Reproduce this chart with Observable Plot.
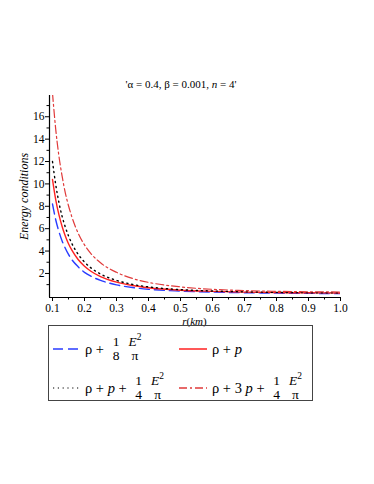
<!DOCTYPE html>
<html>
<head>
<meta charset="utf-8">
<script src="https://cdn.jsdelivr.net/npm/d3@7"></script>
<script src="https://cdn.jsdelivr.net/npm/@observablehq/plot@0.6"></script>
<style>
  html, body { margin: 0; padding: 0; background: #fff; }
  #wrap { position: relative; width: 374px; height: 484px; font-family: "Liberation Serif", "DejaVu Serif", serif; color: #000; }
  #chart { position: absolute; left: 0; top: 0; }
  #chart svg, #chart svg text { font-family: "Liberation Serif", serif; }
  .abs { position: absolute; white-space: nowrap; }
  #title { left: 0; width: 362px; top: 78px; text-align: center; font-size: 11px; }
  #xlab { left: 0; width: 389px; top: 315px; text-align: center; font-size: 11px; }
  #legend { left: 48px; top: 325px; width: 263px; height: 74px; border: 1.5px solid #444; box-sizing: content-box; }
  .sw { position: absolute; }
  .frac { display: inline-flex; flex-direction: column; align-items: center; font-size: 13.5px; line-height: 14px; vertical-align: middle; margin: 0 4px 0 5px; }
  .it { font-style: italic; }
  .item { position: absolute; display: flex; align-items: center; font-size: 14.5px; height: 30px; }
  sup { font-size: 9.5px; line-height: 0; position: relative; top: -1px; vertical-align: super; }
</style>
</head>
<body>
<div id="wrap">
  <div id="chart"></div>
  <div id="title" class="abs">'α = 0.4, β = 0.001, <span class="it">n</span> = 4'</div>
  <div id="xlab" class="abs"><span class="it">r</span>(<span class="it">km</span>)</div>
  <div id="legend" class="abs">
    <svg class="sw" style="left:3px;top:20px" width="30" height="6"><line x1="1" y1="3" x2="29" y2="3" stroke="#2a3cff" stroke-width="1.5" stroke-dasharray="10,5"/></svg>
    <div class="item" style="left:36px;top:8px">ρ&nbsp;+&nbsp;<span class="frac"><span>1</span><span>8</span></span><span class="frac"><span><span class="it">E</span><sup>2</sup></span><span>π</span></span></div>
    <svg class="sw" style="left:129px;top:20px" width="30" height="6"><line x1="1" y1="3" x2="29" y2="3" stroke="#ff2020" stroke-width="1.5"/></svg>
    <div class="item" style="left:163px;top:8px">ρ&nbsp;+&nbsp;<span class="it">p</span></div>
    <svg class="sw" style="left:3px;top:59px" width="30" height="6"><line x1="1" y1="3" x2="29" y2="3" stroke="#000" stroke-width="1.2" stroke-dasharray="1.2,3.6"/></svg>
    <div class="item" style="left:36px;top:47px">ρ&nbsp;+&nbsp;<span class="it">p</span>&nbsp;+&nbsp;<span class="frac"><span>1</span><span>4</span></span><span class="frac"><span><span class="it">E</span><sup>2</sup></span><span>π</span></span></div>
    <svg class="sw" style="left:129px;top:59px" width="30" height="6"><line x1="1" y1="3" x2="29" y2="3" stroke="#e03a3a" stroke-width="1.3" stroke-dasharray="8,3,2,3"/></svg>
    <div class="item" style="left:163px;top:47px">ρ&nbsp;+&nbsp;3&nbsp;<span class="it">p</span>&nbsp;+&nbsp;<span class="frac"><span>1</span><span>4</span></span><span class="frac"><span><span class="it">E</span><sup>2</sup></span><span>π</span></span></div>
  </div>
</div>
<script>
// radius (km)
const r = [0.1, 0.11, 0.12, 0.13, 0.14, 0.15, 0.16, 0.18, 0.2, 0.22, 0.25, 0.3, 0.35, 0.4, 0.5, 0.6, 0.7, 0.8, 0.9, 1.0];
// rho + (1/8) E^2/pi  (blue dashed)
const rhoE8 = [8.2, 6.8, 5.75, 4.9, 4.25, 3.7, 3.25, 2.6, 2.1, 1.75, 1.38, 0.98, 0.74, 0.58, 0.42, 0.33, 0.28, 0.24, 0.22, 0.2];
// rho + p  (red solid)
const rhoP = [10.4, 8.6, 7.25, 6.2, 5.35, 4.65, 4.1, 3.25, 2.65, 2.2, 1.72, 1.22, 0.92, 0.72, 0.5, 0.4, 0.33, 0.29, 0.27, 0.25];
// rho + p + (1/4) E^2/pi  (black dotted)
const rhoPE4 = [12.0, 9.95, 8.35, 7.1, 6.15, 5.35, 4.7, 3.72, 3.02, 2.5, 1.95, 1.38, 1.02, 0.8, 0.55, 0.43, 0.36, 0.31, 0.28, 0.26];
// rho + 3p + (1/4) E^2/pi  (red dash-dot)
const rho3PE4 = [18.1, 14.9, 12.5, 10.7, 9.2, 8.05, 7.1, 5.6, 4.55, 3.78, 2.95, 2.1, 1.55, 1.2, 0.8, 0.58, 0.47, 0.4, 0.36, 0.34];

const xTicks = [0.1, 0.2, 0.3, 0.4, 0.5, 0.6, 0.7, 0.8, 0.9, 1.0];
const xMinor = [0.15, 0.25, 0.35, 0.45, 0.55, 0.65, 0.75, 0.85, 0.95];
const yTicks = [2, 4, 6, 8, 10, 12, 14, 16];
const yMinor = [1, 3, 5, 7, 9, 11, 13, 15, 17];

const series = [
  {key: "blue", vals: rhoE8, stroke: "#2a3cff", dash: "10,5", w: 1.4},
  {key: "red", vals: rhoP, stroke: "#ff2020", dash: null, w: 1.4},
  {key: "dot", vals: rhoPE4, stroke: "#000", dash: "1.2,3.8", w: 1.4},
  {key: "dashdot", vals: rho3PE4, stroke: "#e03a3a", dash: "8,3,2,3", w: 1.2}
];

const x0 = 0.0906, y0 = -0.15, y1 = 17.9;

const marks = series.map(s => Plot.line(r.map((v, i) => ({r: v, y: s.vals[i]})), {
  x: "r", y: "y", stroke: s.stroke, strokeWidth: s.w, strokeDasharray: s.dash, curve: "monotone-x", clip: true
}));

const chart = Plot.plot({
  width: 374,
  height: 330,
  marginLeft: 49,
  marginRight: 34,
  marginTop: 95,
  marginBottom: 33,
  x: {domain: [x0, 1.0]},
  y: {domain: [y0, y1]},
  style: {fontFamily: "Liberation Serif", fontSize: "11px", background: "transparent", color: "#000"},
  marks: [
    ...marks,
    Plot.ruleX([x0], {stroke: "#000", strokeWidth: 1.2}),
    Plot.ruleY([y0], {stroke: "#000", strokeWidth: 1.2}),
    Plot.axisX(xTicks, {tickSize: 4, tickPadding: 2, tickFormat: d => d.toFixed(1), label: null, fontSize: 11.5}),
    Plot.axisX(xMinor, {tickSize: 2.5, tickFormat: () => "", label: null}),
    Plot.axisY(yTicks, {tickSize: 4, tickPadding: 1, tickFormat: d => String(d), label: null, fontSize: 11.5}),
    Plot.axisY(yMinor, {tickSize: 2.5, tickFormat: () => "", label: null}),
    Plot.text(["Energy conditions"], {frameAnchor: "left", textAnchor: "middle", rotate: -90, dx: -25, fontStyle: "italic", fontSize: 12})
  ]
});
document.getElementById("chart").appendChild(chart);
</script>
</body>
</html>
